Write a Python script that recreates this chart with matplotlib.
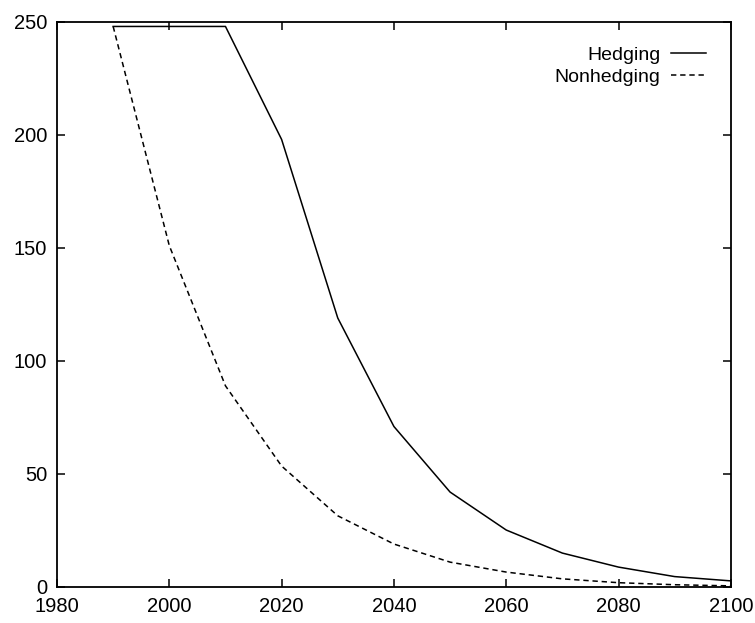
import numpy as np
import matplotlib.pyplot as plt

plt.rcParams['font.family'] = ['Liberation Sans', 'DejaVu Sans']

years = [1990, 2000, 2010, 2020, 2030, 2040, 2050, 2060, 2070, 2080, 2090, 2100]
hedging = [248, 248, 248, 198, 119, 71, 42, 25.2, 15, 8.8, 4.6, 2.7]
nonhedging = [248, 151, 89, 53.5, 31.5, 19, 11, 6.6, 3.6, 1.9, 1.0, 0.5]

fig = plt.figure(figsize=(7.55, 6.23), dpi=100)
ax = fig.add_axes([0.0755, 0.0578, 0.8925, 0.907])

ax.plot(years, hedging, 'k-', lw=1.1, label='Hedging')
ax.plot(years, nonhedging, 'k', lw=1.1, dashes=(3.5, 2.5), label='Nonhedging')

ax.set_xlim(1980, 2100)
ax.set_ylim(0, 250)
ax.set_xticks(np.arange(1980, 2101, 20))
ax.set_yticks(np.arange(0, 251, 50))
ax.tick_params(direction='in', length=6, width=1.1, top=True, right=True,
               labelsize=14.5, pad=7)
for s in ax.spines.values():
    s.set_linewidth(1.3)

ax.legend(loc='upper right', frameon=False, markerfirst=False, fontsize=14,
          handlelength=1.8, handletextpad=0.55, labelspacing=0.2,
          bbox_to_anchor=(0.975, 0.97), borderaxespad=0)

plt.savefig('out.png', dpi=100)
